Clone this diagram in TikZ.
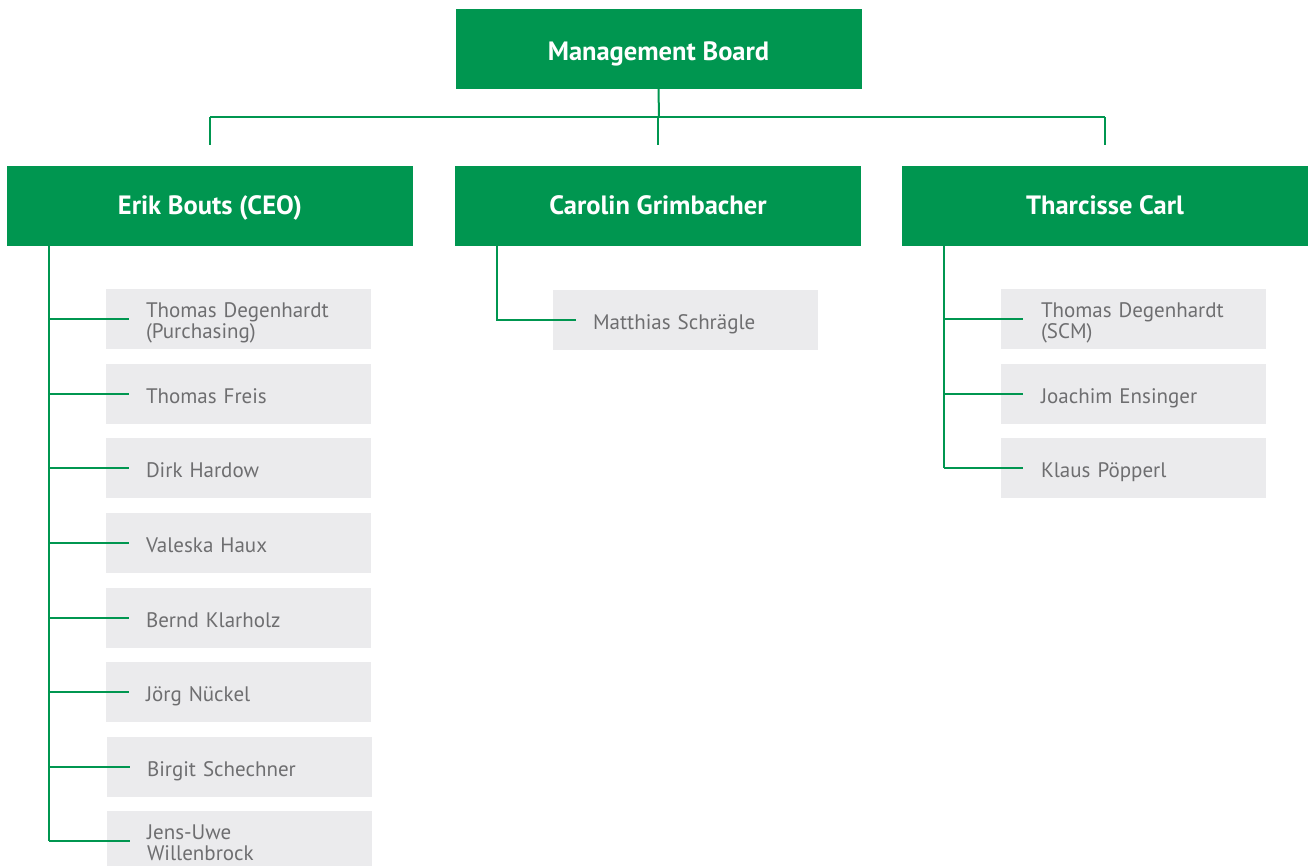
\documentclass[tikz,border=0pt]{standalone}
\usepackage{fontspec}
\setmainfont{PT Sans}
\definecolor{boardgreen}{RGB}{0,150,80}
\definecolor{boxgray}{RGB}{235,235,237}
\definecolor{namegray}{RGB}{110,110,112}
\tikzstyle{head}=[rectangle,fill=boardgreen,text=white,minimum width=406pt,minimum height=80pt,inner sep=0pt,text height=17pt,text depth=0pt,font=\fontsize{26.5}{28}\selectfont\bfseries]
\tikzstyle{member}=[rectangle,fill=boxgray,text=namegray,minimum height=60pt,inner xsep=40pt,inner ysep=0pt,text width=185pt,text height=18pt,text depth=0pt,align=left,font=\fontsize{21}{21}\selectfont]
\tikzstyle{member2}=[member,text depth=21pt]
\tikzstyle{link}=[draw=boardgreen,line width=2pt]

\begin{document}
\begin{tikzpicture}[x=1pt,y=-1pt]
    \useasboundingbox (0,0) rectangle (1309,865);
    \node[head,text height=22pt] (board) at (658.5,49)  {Management Board};
    \node[head] (erik)      at (210,205.5) {Erik Bouts (CEO)};
    \node[head] (carolin)   at (658,205.5) {Carolin Grimbacher};
    \node[head] (tharcisse) at (1105,205.5) {Tharcisse Carl};

    \node[member2] (e1) at (238.5,319) {Thomas Degenhardt\\(Purchasing)};
    \node[member]  (e2) at (238.5,394) {Thomas Freis};
    \node[member]  (e3) at (238.5,468) {Dirk Hardow};
    \node[member]  (e4) at (238.5,543) {Valeska Haux};
    \node[member]  (e5) at (238.5,618) {Bernd Klarholz};
    \node[member]  (e6) at (238.5,692) {Jörg Nückel};
    \node[member]  (e7) at (239.5,767) {Birgit Schechner};
    \node[member2] (e8) at (239.5,841) {Jens-Uwe\\Willenbrock};

    \node[member] (c1) at (685.5,320) {Matthias Schrägle};

    \node[member2] (t1) at (1133.5,319) {Thomas Degenhardt\\(SCM)};
    \node[member]  (t2) at (1133.5,394) {Joachim Ensinger};
    \node[member]  (t3) at (1133.5,468) {Klaus Pöpperl};

    \coordinate (bus) at (659,117);
    \coordinate (etrunk) at (49,245);
    \coordinate (ctrunk) at (497,245);
    \coordinate (ttrunk) at (944,245);

    \draw[link] (board.south) -- (bus);
    \draw[link] (bus -| erik.north) -- (bus -| tharcisse.north);
    \foreach \n in {erik,carolin,tharcisse}
    \draw[link] (bus -| \n.north) -- ([yshift=20pt]\n.north);

    \draw[link] (etrunk) -- (etrunk |- e8);
    \foreach \n in {e1,e2,e3,e4,e5,e6,e7,e8}
    \draw[link] (etrunk |- \n) -- ([xshift=23pt]\n.west);

    \draw[link] (ctrunk) |- ([xshift=23pt]c1.west);

    \draw[link] (ttrunk) -- (ttrunk |- t3);
    \foreach \n in {t1,t2,t3}
    \draw[link] (ttrunk |- \n) -- ([xshift=22pt]\n.west);
\end{tikzpicture}
\end{document}
